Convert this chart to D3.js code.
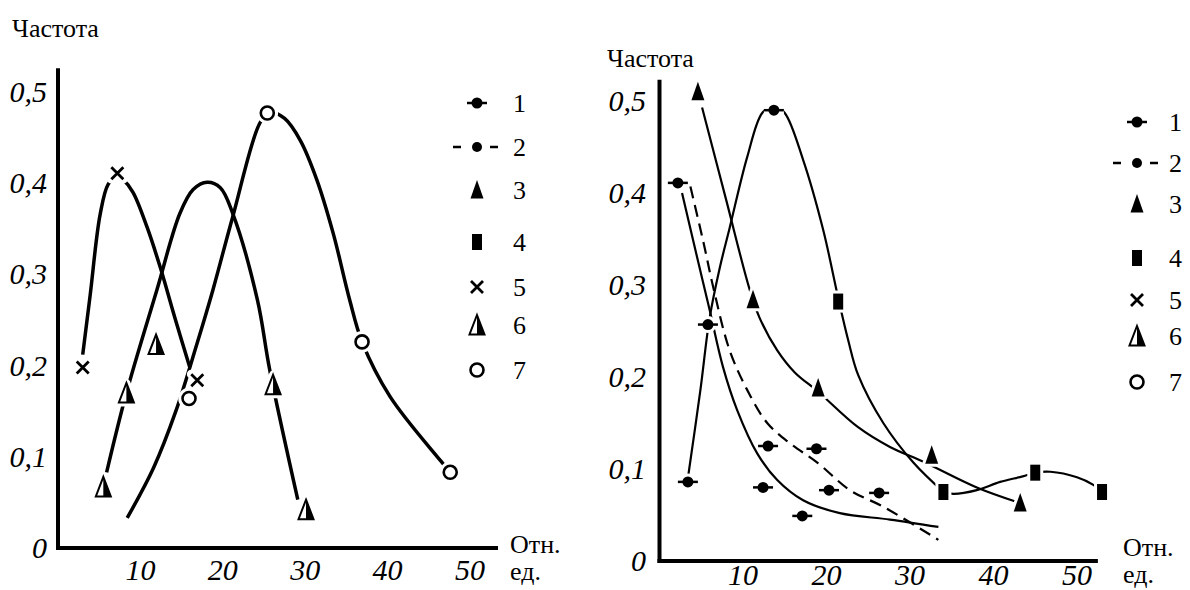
<!DOCTYPE html>
<html>
<head>
<meta charset="utf-8">
<script src="https://cdn.jsdelivr.net/npm/d3@7"></script>
</head>
<body style="margin:0">
<script>
// ---- data ----
var xTickValues = [10, 20, 30, 40, 50];
var yTickValues = [0, 0.1, 0.2, 0.3, 0.4, 0.5];
var yTickLabels = ["0", "0,1", "0,2", "0,3", "0,4", "0,5"];
var legendLabels = ["1", "2", "3", "4", "5", "6", "7"];
var yTitle = "Частота";
var xTitle = ["Отн.", "ед."];

// left panel: markers
var leftS5Markers = [[3.0, 0.198], [7.2, 0.411], [16.9, 0.184]];
var leftS6Markers = [[5.5, 0.067], [8.3, 0.170], [11.9, 0.223], [26.1, 0.179], [30.1, 0.042]];
var leftS7Markers = [[15.9, 0.164], [25.4, 0.477], [36.9, 0.226], [47.6, 0.083]];
// left panel: drawn curves
var leftS5Curve = [[3.0, 0.212], [3.9, 0.277], [5.1, 0.365], [6.1, 0.399], [7.2, 0.408], [7.9, 0.404],
  [9.1, 0.390], [10.8, 0.352], [12.4, 0.308], [14.2, 0.252], [16.0, 0.198]];
var leftS6Curve = [[5.9, 0.083], [8.3, 0.170], [12.0, 0.283], [14.8, 0.367], [16.4, 0.393], [18.1, 0.401],
  [19.7, 0.395], [21.2, 0.367], [24.2, 0.272], [25.7, 0.195], [29.1, 0.053]];
var leftS7Curve = [[8.4, 0.033], [11.6, 0.088], [14.3, 0.150], [16.8, 0.222], [18.8, 0.283],
  [21.2, 0.363], [24.5, 0.466], [25.7, 0.478], [27.5, 0.471], [29.4, 0.447], [31.4, 0.404], [33.4, 0.345],
  [35.4, 0.272], [36.9, 0.226], [40.3, 0.166], [46.4, 0.096], [47.6, 0.083]];

// right panel: markers
var rightS1Markers = [[2.2, 0.411], [3.4, 0.086], [5.8, 0.257], [13.7, 0.490], [12.4, 0.080], [17.1, 0.049]];
var rightS2Markers = [[13.0, 0.125], [18.8, 0.122], [20.3, 0.077], [26.3, 0.074]];
var rightS3Markers = [[4.6, 0.510], [11.2, 0.284], [19.0, 0.188], [32.6, 0.115], [43.2, 0.063]];
var rightS4Markers = [[21.4, 0.282], [34.0, 0.075], [45.0, 0.096], [53.0, 0.075]];
// right panel: drawn curves
var rightS1Peak = [[3.4, 0.090], [4.9, 0.186], [6.0, 0.264], [7.2, 0.318], [8.4, 0.362], [10.5, 0.439],
  [12.3, 0.487], [13.7, 0.495], [15.0, 0.487], [17.2, 0.436], [19.6, 0.360], [21.4, 0.286], [22.6, 0.240],
  [23.8, 0.202], [26.8, 0.150], [30.4, 0.107], [34.0, 0.075]];
var rightS1Decay = [[2.7, 0.400], [4.3, 0.338], [6.0, 0.273], [7.6, 0.211], [9.3, 0.164], [11.7, 0.117],
  [14.1, 0.088], [17.2, 0.066], [21.6, 0.052], [27.6, 0.045], [33.4, 0.037]];
var rightS2Curve = [[3.7, 0.407], [5.2, 0.349], [6.6, 0.291], [8.4, 0.229], [10.5, 0.186], [12.9, 0.150],
  [15.6, 0.128], [18.9, 0.107], [22.8, 0.077], [26.8, 0.059], [33.4, 0.023]];
var rightS3Curve = [[5.1, 0.493], [8.0, 0.392], [10.8, 0.295], [12.0, 0.264], [14.1, 0.229], [16.2, 0.205],
  [19.0, 0.184], [23.7, 0.146], [27.6, 0.124], [31.6, 0.108], [38.0, 0.080], [43.2, 0.063]];
var rightS4Curve = [[34.0, 0.075], [35.2, 0.073], [38.0, 0.077], [40.8, 0.086], [43.5, 0.092], [45.0, 0.096],
  [46.8, 0.097], [50.0, 0.091], [51.9, 0.083], [53.0, 0.075]];

// ---- drawing ----
var fontName = "Liberation Serif";
var svg = d3.select("body").append("svg")
    .attr("width", 1190).attr("height", 590)
    .style("display", "block");

var legendShapes = ["dotbar", "dotdash", "tri", "square", "cross", "halftri", "ring"];

function drawShape(g, type, halo) {
    var c = halo ? "#fff" : "#000";
    var w = halo ? 6 : 0;
    switch (type) {
        case "dotbar":
            g.append("line").attr("x1", -10).attr("x2", 10)
                .attr("stroke", c).attr("stroke-width", 2.5 + w);
            g.append("circle").attr("r", 5.5).attr("fill", c)
                .attr("stroke", c).attr("stroke-width", w);
            break;
        case "dotdash":
            g.append("circle").attr("r", 5).attr("fill", c);
            g.append("path").attr("d", "M-24,0H-16M13,0H21")
                .attr("stroke", c).attr("stroke-width", 2.5);
            break;
        case "tri":
            g.append("path").attr("d", "M0,-10L6.5,8.5L-6.5,8.5Z")
                .attr("fill", c).attr("stroke", c).attr("stroke-width", w)
                .attr("stroke-linejoin", "round");
            break;
        case "square":
            g.append("rect").attr("x", -5).attr("y", -8).attr("width", 10).attr("height", 16)
                .attr("fill", c).attr("stroke", c).attr("stroke-width", w);
            break;
        case "cross":
            g.append("path").attr("d", "M-6,-6L6,6M-6,6L6,-6")
                .attr("stroke", c).attr("stroke-width", 2.8 + w)
                .attr("stroke-linecap", halo ? "round" : "butt");
            break;
        case "halftri":
            g.append("path").attr("d", "M0,-10L7.5,9.5L-7.5,9.5Z")
                .attr("fill", "#fff").attr("stroke", c).attr("stroke-width", 2 + w)
                .attr("stroke-linejoin", halo ? "round" : "miter");
            if (!halo) g.append("path").attr("d", "M0,-10L7.5,9.5L0,9.5Z").attr("fill", "#000");
            break;
        case "ring":
            g.append("circle").attr("r", 6.5).attr("fill", "#fff")
                .attr("stroke", c).attr("stroke-width", 2.6 + w);
            break;
    }
}

function label(x, y, size, italic, str, anchor) {
    var t = svg.append("text")
        .attr("x", x).attr("y", y)
        .style("font-family", "'" + fontName + "'")
        .attr("font-size", size)
        .attr("text-anchor", anchor || "start");
    if (italic) t.attr("font-style", "italic");
    t.text(str);
}

function drawPanel(p) {
    var layer = svg.append("g");
    var x = d3.scaleLinear().domain([0, 50]).range(p.xRange);
    var y = d3.scaleLinear().domain([0, 0.5]).range(p.yRange);

    // axes
    layer.append("line")
        .attr("x1", x(0)).attr("x2", x(0))
        .attr("y1", y(0) + 2).attr("y2", y(p.yTop))
        .attr("stroke", "#000").attr("stroke-width", 4);
    layer.append("line")
        .attr("x1", x(0) - 2).attr("x2", x(p.xEnd))
        .attr("y1", y(0)).attr("y2", y(0))
        .attr("stroke", "#000").attr("stroke-width", 4);

    yTickValues.forEach(function (v, i) {
        label(p.yLabelX, y(v) + 10, 30, true, yTickLabels[i], "end");
    });
    xTickValues.forEach(function (v) {
        label(x(v), p.xLabelY, 30, true, String(v), "middle");
    });

    label(p.titlePos[0], p.titlePos[1], 26, false, yTitle);
    xTitle.forEach(function (t, i) {
        label(p.unitPos[0], p.unitPos[1] + i * 27, 26, false, t);
    });

    // curves
    var line = d3.line()
        .x(function (d) { return x(d[0]); })
        .y(function (d) { return y(d[1]); })
        .curve(d3.curveCatmullRom.alpha(0.5));

    p.curves.forEach(function (c) {
        layer.append("path").datum(c.data)
            .attr("d", line)
            .attr("fill", "none")
            .attr("stroke", "#000")
            .attr("stroke-width", p.lineWidth)
            .attr("stroke-dasharray", c.dashed ? "12,7" : null);
    });

    // markers (white halo first so the lines break round them)
    [true, false].forEach(function (halo) {
        p.markers.forEach(function (m) {
            m.data.forEach(function (d) {
                var g = layer.append("g")
                    .attr("transform", "translate(" + x(d[0]) + "," + y(d[1]) + ")");
                drawShape(g, m.shape, halo);
            });
        });
    });

    // legend
    legendLabels.forEach(function (lab, i) {
        var g = layer.append("g")
            .attr("transform", "translate(" + p.legendX + "," + p.legendY[i] + ")");
        drawShape(g, legendShapes[i], false);
        label(p.legendX + p.legendGap, p.legendY[i] + 9, 26, false, lab);
    });
}

drawPanel({
    xRange: [58, 470], yRange: [548, 92], yTop: 0.526, xEnd: 53.4,
    yLabelX: 47, xLabelY: 580, lineWidth: 3.5,
    titlePos: [12, 37], unitPos: [510, 553],
    legendX: 477, legendGap: 36, legendY: [103, 147, 190, 242, 287, 325, 370],
    curves: [
        { data: leftS5Curve }, { data: leftS6Curve }, { data: leftS7Curve }
    ],
    markers: [
        { shape: "cross", data: leftS5Markers },
        { shape: "halftri", data: leftS6Markers },
        { shape: "ring", data: leftS7Markers }
    ]
});

drawPanel({
    xRange: [659.5, 1077], yRange: [561, 101], yTop: 0.523, xEnd: 52.5,
    yLabelX: 646, xLabelY: 585, lineWidth: 2.2,
    titlePos: [607, 67], unitPos: [1123, 556],
    legendX: 1137, legendGap: 32, legendY: [122, 163, 204, 258, 300, 336, 382],
    curves: [
        { data: rightS1Peak }, { data: rightS1Decay }, { data: rightS2Curve, dashed: true },
        { data: rightS3Curve }, { data: rightS4Curve }
    ],
    markers: [
        { shape: "dotbar", data: rightS1Markers },
        { shape: "dotbar", data: rightS2Markers },
        { shape: "tri", data: rightS3Markers },
        { shape: "square", data: rightS4Markers }
    ]
});
</script>
</body>
</html>
